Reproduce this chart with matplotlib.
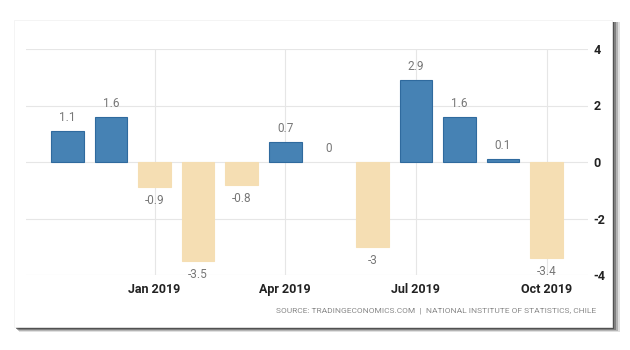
import matplotlib.pyplot as plt
from matplotlib.patches import Rectangle

plt.rcParams["font.family"] = ["Roboto", "DejaVu Sans"]
plt.rcParams["axes.unicode_minus"] = False

months = ["Nov 2018", "Dec 2018", "Jan 2019", "Feb 2019", "Mar 2019", "Apr 2019",
          "May 2019", "Jun 2019", "Jul 2019", "Aug 2019", "Sep 2019", "Oct 2019"]
values = [1.1, 1.6, -0.9, -3.5, -0.8, 0.7, 0, -3, 2.9, 1.6, 0.1, -3.4]
value_labels = ["1.1", "1.6", "-0.9", "-3.5", "-0.8", "0.7", "0", "-3", "2.9", "1.6", "0.1", "-3.4"]
tick_months = ["Jan 2019", "Apr 2019", "Jul 2019", "Oct 2019"]
y_ticks = [-4, -2, 0, 2, 4]

fig = plt.figure(figsize=(6.3, 3.5), dpi=100)
fig.patch.set_facecolor("white")

# card with soft drop shadow
for k, a in enumerate([0.15, 0.25, 0.4, 0.6]):
    off = 5 - k
    fig.patches.append(Rectangle(((14 + off) / 630, 1 - (327 + off) / 350),
                                 (598 - 2 + off) / 630, (307 - 2 + off) / 350,
                                 transform=fig.transFigure, facecolor="#333333",
                                 alpha=a, lw=0, zorder=-2))
fig.patches.append(Rectangle((14 / 630, 1 - 327 / 350), 598 / 630, 307 / 350,
                             transform=fig.transFigure, facecolor="white",
                             edgecolor="#f0f0f0", lw=0.5, zorder=-1))

ax = fig.add_axes([26 / 630, 1 - 275 / 350, 562 / 630, 226 / 350])
ax.set_facecolor("none")
x = list(range(len(values)))
colors = ["#4682b4" if v > 0 else "#f5deb3" for v in values]
edges = ["#2f6a9e" if v > 0 else "#f5deb3" for v in values]
widths = [0.8 if v != 0 else 0 for v in values]
ax.bar(x, values, width=0.75, color=colors, edgecolor=edges, linewidth=widths, zorder=3)

for i, (v, lab) in enumerate(zip(values, value_labels)):
    if v >= 0:
        ax.annotate(lab, (i, v), xytext=(0, 5), textcoords="offset points",
                    ha="center", va="bottom", fontsize=8.5, color="#777777")
    else:
        ax.annotate(lab, (i, v), xytext=(0, -5), textcoords="offset points",
                    ha="center", va="top", fontsize=8.5, color="#777777")

ax.set_xlim(-0.95, 11.95)
ax.set_ylim(-4, 4)
ax.set_xticks([months.index(m) for m in tick_months])
ax.set_xticklabels(tick_months)
ax.set_yticks(y_ticks)
ax.yaxis.tick_right()
ax.grid(True, color="#e6e6e6", lw=0.8, zorder=0)
for s in ax.spines.values():
    s.set_visible(False)
ax.tick_params(axis="both", length=0, labelsize=9, colors="#222222")
ax.tick_params(axis="x", pad=6)
ax.tick_params(axis="y", pad=4)
for t in ax.get_xticklabels() + ax.get_yticklabels():
    t.set_fontweight("bold")

fig.text(596 / 630, 1 - 311 / 350,
         "SOURCE: TRADINGECONOMICS.COM  |  NATIONAL INSTITUTE OF STATISTICS, CHILE",
         ha="right", va="center", fontsize=6, color="#888888")

fig.savefig("out.png", dpi=100)
